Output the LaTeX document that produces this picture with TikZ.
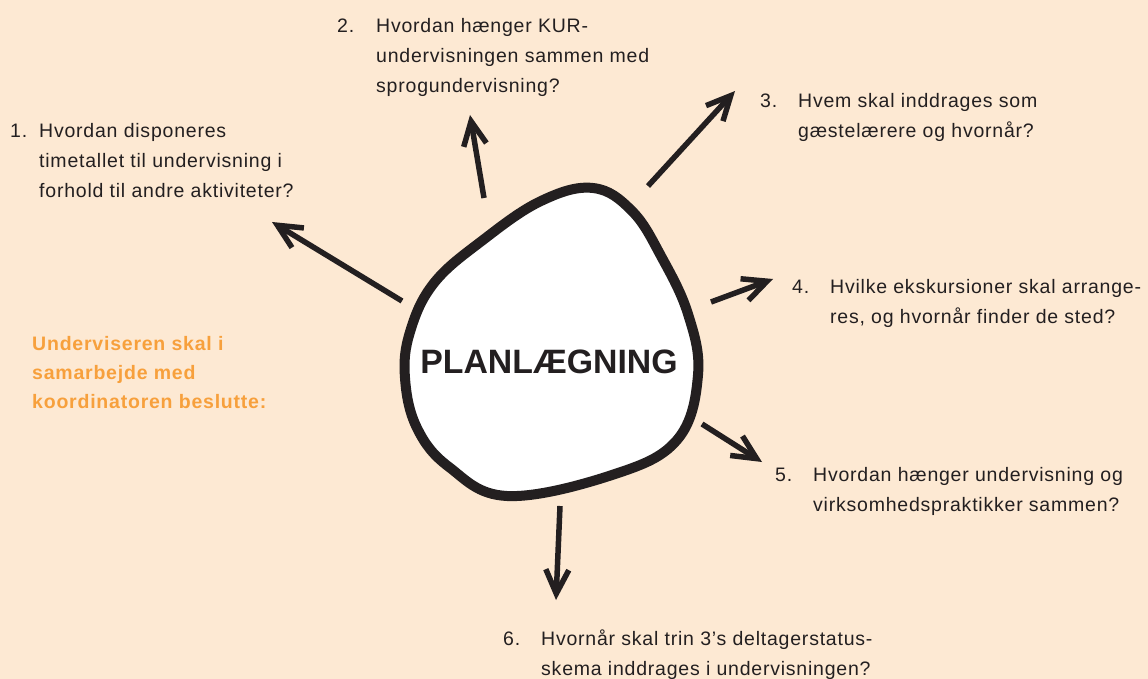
\documentclass[tikz,border=0pt]{standalone}
\usepackage{fontspec}
\setmainfont[LetterSpace=4]{Liberation Sans}
\newfontfamily\titlefont[LetterSpace=0]{Liberation Sans}
\usetikzlibrary{arrows.meta}
\definecolor{bg}{RGB}{253,233,211}
\definecolor{ink}{RGB}{35,31,32}
\definecolor{orangetxt}{RGB}{247,160,60}
\tikzset{
  item/.style={anchor=base west, inner sep=0pt, text=ink, font=\fontsize{19.5}{30}\selectfont},
  lead/.style={anchor=base west, inner sep=0pt, text=orangetxt, font=\fontsize{19.5}{29}\selectfont\bfseries},
  arr/.style={line width=5.5pt, draw=ink, line join=miter, -{Straight Barb[length=24pt,width=23pt]}},
  blob/.style={line width=10pt, draw=ink, fill=white},
}
\begin{document}
\begin{tikzpicture}[x=1pt,y=-1pt]
\path[fill=bg] (0,0) rectangle (1148,679);
\useasboundingbox (0,0) rectangle (1148,679);

% central blob
\draw[blob] plot[smooth cycle, tension=0.65] coordinates {
 (593,188) (632,211) (661,256) (688,314) (698,375) (677,440) (612,475)
 (507,496) (449,467) (417,428) (405,378) (410,332) (434,283) (483,240) (541,201)};
\node[inner sep=0pt, anchor=base, text=ink, font=\titlefont\fontsize{33.8}{40}\selectfont\bfseries] (center) at (549,373) {PLANLÆGNING};

% texts
\node[item] (q1) at (10,138) {\begin{tabular}[t]{@{}p{29pt}@{}l@{}}1. & Hvordan disponeres\\ & timetallet til undervisning i\\ & forhold til andre aktiviteter?\end{tabular}};
\node[item] (q2) at (337,33) {\begin{tabular}[t]{@{}p{39pt}@{}l@{}}2. & Hvordan hænger KUR-\\ & undervisningen sammen med\\ & sprogundervisning?\end{tabular}};
\node[item] (q3) at (760,108) {\begin{tabular}[t]{@{}p{38pt}@{}l@{}}3. & Hvem skal inddrages som\\ & gæstelærere og hvornår?\end{tabular}};
\node[item] (q4) at (792,293) {\begin{tabular}[t]{@{}p{38pt}@{}l@{}}4. & Hvilke ekskursioner skal arrange-\\ & res, og hvornår finder de sted?\end{tabular}};
\node[item] (q5) at (775,481) {\begin{tabular}[t]{@{}p{38pt}@{}l@{}}5. & Hvordan hænger undervisning og\\ & virksomhedspraktikker sammen?\end{tabular}};
\node[item] (q6) at (503,645) {\begin{tabular}[t]{@{}p{38pt}@{}l@{}}6. & Hvornår skal trin 3’s deltagerstatus-\\ & skema inddrages i undervisningen?\end{tabular}};
\node[lead] (intro) at (32,350) {\begin{tabular}[t]{@{}l@{}}Underviseren skal i\\ samarbejde med\\ koordinatoren beslutte:\end{tabular}};

% arrow ends
\coordinate (s1) at (402,301); \coordinate (e1) at (272,222);
\coordinate (s2) at (484,198); \coordinate (e2) at (470,115);
\coordinate (s3) at (648,186); \coordinate (e3) at (735,91);
\coordinate (s4) at (711,302); \coordinate (e4) at (773,279);
\coordinate (s5) at (702,424); \coordinate (e5) at (762,462);
\coordinate (s6) at (560,506); \coordinate (e6) at (556,600);

\draw[arr] (s1) -- (e1);
\draw[arr] (s2) -- (e2);
\draw[arr] (s3) -- (e3);
\draw[arr] (s4) -- (e4);
\draw[arr] (s5) -- (e5);
\draw[arr] (s6) -- (e6);
\end{tikzpicture}
\end{document}
